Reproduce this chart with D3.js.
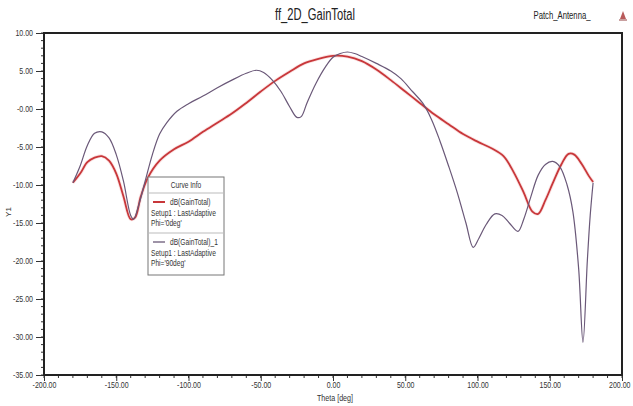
<!DOCTYPE html>
<html>
<head>
<meta charset="utf-8">
<script src="https://cdn.jsdelivr.net/npm/d3@7/dist/d3.min.js"></script>
<style>
  body { margin: 0; background: #fff; }
  svg { font-family: "Liberation Sans", Arial, sans-serif; }
</style>
</head>
<body>
<script>
// read data
var thetaPhi0 = [-180,-175,-170,-165,-160,-155,-150,-145,-140,-137,-133,-128,-120,-110,-100,-90,-80,-70,-60,-50,-40,-30,-20,-10,0,10,20,30,40,50,60,70,80,90,100,110,118,125,132,138,142,147,152,158,163,167,172,177,180];
var gainPhi0 = [-9.7,-8.5,-7.0,-6.4,-6.2,-6.8,-8.5,-11.5,-14.5,-14.3,-11.5,-9.0,-6.8,-5.3,-4.3,-3.0,-1.8,-0.6,0.8,2.3,3.7,4.9,6.0,6.6,7.0,6.9,6.3,5.2,3.8,2.3,0.8,-0.7,-2.0,-3.3,-4.3,-5.2,-6.2,-8.3,-11.0,-13.5,-13.8,-12.0,-9.8,-7.3,-5.9,-6.0,-7.2,-8.8,-9.6];

var thetaPhi90 = [-180,-175,-170,-165,-160,-155,-150,-145,-140,-138,-135,-130,-125,-120,-115,-108,-100,-90,-80,-70,-60,-53,-48,-42,-36,-30,-25,-22,-18,-12,-5,0,5,10,15,20,30,40,47,55,62,68,74,80,86,92,97,101,106,112,117,122,128,132,137,142,147,152,157,162,166,170,173,176,178,180];
var gainPhi90 = [-9.7,-7.5,-4.8,-3.2,-3.0,-3.8,-6.0,-9.5,-14.0,-14.5,-13.0,-9.5,-6.0,-3.3,-1.8,-0.3,0.7,1.7,2.8,3.8,4.7,5.1,4.8,3.8,2.3,0.3,-1.1,-1.0,0.8,3.3,5.6,6.8,7.3,7.5,7.3,6.9,6.0,5.0,4.0,2.3,0.8,-1.3,-4.2,-7.5,-11.0,-15.0,-18.2,-17.0,-15.2,-13.8,-14.0,-15.0,-16.1,-14.5,-11.5,-8.7,-7.3,-6.9,-7.6,-10.0,-13.5,-21.0,-30.7,-20.0,-14.0,-9.7];

var xTicks = [-200,-150,-100,-50,0,50,100,150,200];
var xTickLabels = ["-200.00","-150.00","-100.00","-50.00","0.00","50.00","100.00","150.00","200.00"];
var yTicks = [10,5,0,-5,-10,-15,-20,-25,-30,-35];
var yTickLabels = ["10.00","5.00","-0.00","-5.00","-10.00","-15.00","-20.00","-25.00","-30.00","-35.00"];

var seriesNames = ["dB(GainTotal)", "dB(GainTotal)_1"];
var seriesSetup = ["Setup1 : LastAdaptive", "Setup1 : LastAdaptive"];
var seriesPhi = ["Phi='0deg'", "Phi='90deg'"];
var colors = ["#c8373a", "#6a5878"];

var margin = { top: 33, right: 11, bottom: 31, left: 44 };
var W = 633, H = 406;
var width = W - margin.left - margin.right,
    height = H - margin.top - margin.bottom;

// squeeze text to look like the condensed font of the original
function narrow(sel, f) {
  sel.each(function() {
    var w = this.getComputedTextLength();
    d3.select(this).attr("textLength", w * f).attr("lengthAdjust", "spacingAndGlyphs");
  });
}

var svg = d3.select("body").append("svg")
  .attr("width", W)
  .attr("height", H);

var g = svg.append("g")
  .attr("transform", "translate(" + margin.left + "," + margin.top + ")");

var x = d3.scaleLinear().domain([-200, 200]).range([0, width]);
var y = d3.scaleLinear().domain([-35, 10]).range([height, 0]);

// minor ticks
g.append("g").selectAll("line")
  .data(d3.range(-35, 10.01, 1))
  .enter().append("line")
  .attr("x1", -3).attr("x2", 0)
  .attr("y1", d => y(d)).attr("y2", d => y(d))
  .attr("stroke", "#333").attr("stroke-width", 1);

g.append("g").selectAll("line")
  .data(d3.range(-200, 200.01, 10))
  .enter().append("line")
  .attr("x1", d => x(d)).attr("x2", d => x(d))
  .attr("y1", height).attr("y2", height + 3)
  .attr("stroke", "#333").attr("stroke-width", 1);

// y axis
var yAxis = d3.axisLeft(y).tickValues(yTicks).tickSize(8)
  .tickFormat((d, i) => yTickLabels[i]);
var ya = g.append("g").attr("class", "y axis").call(yAxis);
ya.select(".domain").remove();
ya.selectAll("text").attr("font-size", "9px").attr("fill", "#333").attr("x", -11)
  .attr("font-family", "'Liberation Sans', Arial, sans-serif");
ya.selectAll("line").attr("stroke", "#333");
narrow(ya.selectAll("text"), 0.78);

// x axis
var xAxis = d3.axisBottom(x).tickValues(xTicks).tickSize(6)
  .tickFormat((d, i) => xTickLabels[i]);
var xa = g.append("g").attr("class", "x axis")
  .attr("transform", "translate(0," + height + ")").call(xAxis);
xa.select(".domain").remove();
xa.selectAll("text").attr("font-size", "9px").attr("fill", "#333").attr("y", 7)
  .attr("font-family", "'Liberation Sans', Arial, sans-serif")
  .attr("transform", "scale(0.78,1)");
xa.selectAll("line").attr("stroke", "#333");
// keep the last label inside the window
xa.selectAll("text").filter(d => d === 200)
  .attr("text-anchor", "end").attr("x", 8 / 0.78);

// frame
g.append("rect")
  .attr("x", 0).attr("y", 0)
  .attr("width", width).attr("height", height)
  .attr("fill", "none").attr("stroke", "#222").attr("stroke-width", 2);

// curves
var line = d3.line()
  .x(d => x(d[0]))
  .y(d => y(d[1]))
  .curve(d3.curveCatmullRom.alpha(0.5));

var series = [
  d3.zip(thetaPhi0, gainPhi0),
  d3.zip(thetaPhi90, gainPhi90)
];

g.append("path")
  .datum(series[0])
  .attr("d", line)
  .attr("fill", "none")
  .attr("stroke", "#f5c4c4")
  .attr("stroke-width", 3.5)
  .attr("opacity", 0.5);

series.forEach(function(s, i) {
  g.append("path")
    .datum(s)
    .attr("d", line)
    .attr("fill", "none")
    .attr("stroke", colors[i])
    .attr("stroke-width", i === 0 ? 1.8 : 1.2);
});

// title etc
svg.append("text")
  .attr("x", 315).attr("y", 20)
  .attr("text-anchor", "middle")
  .attr("font-size", "16px")
  .attr("fill", "#222")
  .attr("textLength", 80).attr("lengthAdjust", "spacingAndGlyphs")
  .text("ff_2D_GainTotal");

svg.append("text")
  .attr("x", 562).attr("y", 19)
  .attr("text-anchor", "middle")
  .attr("font-size", "10px")
  .attr("fill", "#222")
  .attr("textLength", 57).attr("lengthAdjust", "spacingAndGlyphs")
  .text("Patch_Antenna_");

// little logo
svg.append("path")
  .attr("d", "M623,11 L626,19 L620,19 Z")
  .attr("fill", "#b85a5a");
svg.append("rect")
  .attr("x", 619).attr("y", 19).attr("width", 8).attr("height", 2)
  .attr("fill", "#c9a0a0");

svg.append("text")
  .attr("x", 335).attr("y", 401)
  .attr("text-anchor", "middle")
  .attr("font-size", "9px")
  .attr("fill", "#333")
  .attr("textLength", 36).attr("lengthAdjust", "spacingAndGlyphs")
  .text("Theta [deg]");

svg.append("text")
  .attr("transform", "translate(11,212) rotate(-90)")
  .attr("text-anchor", "middle")
  .attr("font-size", "8px")
  .attr("fill", "#333")
  .text("Y1");

// legend
var lg = svg.append("g").attr("transform", "translate(148,177)");
lg.append("rect")
  .attr("width", 76).attr("height", 98)
  .attr("fill", "#fff").attr("stroke", "#777").attr("stroke-width", 1);
lg.append("text")
  .attr("x", 38).attr("y", 11)
  .attr("text-anchor", "middle")
  .attr("font-size", "8.5px").attr("fill", "#333")
  .text("Curve Info")
  .call(narrow, 0.78);
lg.append("line").attr("x1", 0).attr("x2", 76).attr("y1", 16).attr("y2", 16).attr("stroke", "#bbb");
lg.append("line").attr("x1", 0).attr("x2", 76).attr("y1", 56).attr("y2", 56).attr("stroke", "#bbb");

seriesNames.forEach(function(name, i) {
  var oy = 16 + i * 40;
  lg.append("line")
    .attr("x1", 5).attr("x2", 17)
    .attr("y1", oy + 9).attr("y2", oy + 9)
    .attr("stroke", colors[i]).attr("stroke-width", i === 0 ? 2 : 1.3);
  lg.append("text").attr("x", 22).attr("y", oy + 12)
    .attr("font-size", "8.5px").attr("fill", "#333").text(name).call(narrow, 0.78);
  lg.append("text").attr("x", 3).attr("y", oy + 23)
    .attr("font-size", "8.5px").attr("fill", "#333").text(seriesSetup[i]).call(narrow, 0.78);
  lg.append("text").attr("x", 3).attr("y", oy + 33)
    .attr("font-size", "8.5px").attr("fill", "#333").text(seriesPhi[i]).call(narrow, 0.78);
});
</script>
</body>
</html>
